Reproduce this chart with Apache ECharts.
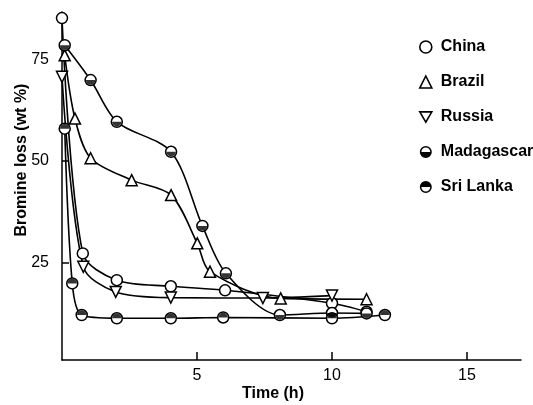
<!DOCTYPE html>
<html>
<head>
<meta charset="utf-8">
<script src="https://cdn.jsdelivr.net/npm/echarts@6/dist/echarts.min.js"></script>
<style>html,body{margin:0;padding:0;background:#fff}#c{width:533px;height:405px}</style>
</head>
<body>
<div id="c"></div>
<script>
// ---- data (time in h, bromine loss in wt %) ----
const chinaTime = [0, 0.77, 2.03, 4.03, 6.04, 10, 11.28];
const chinaLoss = [85.3, 27.2, 20.6, 19.1, 18.1, 14.9, 12.8];

const brazilTime = [0.1, 0.48, 1.06, 2.58, 4.04, 5.01, 5.48, 8.1, 11.28];
const brazilLoss = [76.1, 60.5, 50.7, 45.3, 41.6, 29.7, 22.7, 16.1, 15.9];

const russiaTime = [0, 0.79, 1.99, 4.03, 7.44, 10];
const russiaLoss = [70.8, 23.9, 17.7, 16.3, 16.2, 16.8];

const madagascarTime = [0.1, 1.06, 2.03, 4.04, 5.2, 6.07, 8.07, 10, 11.28];
const madagascarLoss = [78.6, 70, 59.7, 52.3, 34, 22.3, 12, 12.5, 12.4];

const sriLankaTime = [0.1, 0.38, 0.73, 2.03, 4.03, 5.97, 10, 11.96];
const sriLankaLoss = [58, 19.8, 12, 11.2, 11.2, 11.4, 11.2, 12];

const xTicks = [5, 10, 15];
const yTicks = [25, 50, 75];

function pairs(t, v) { return t.map((x, i) => [x, v[i]]); }

const downTri = 'path://M0,0 L20,0 L10,17 Z';
const ringBottom = 'path://M10,0 A10,10 0 1,1 10,20 A10,10 0 1,1 10,0 Z M10,2.6 A7.4,7.4 0 1,0 10,17.4 A7.4,7.4 0 1,0 10,2.6 Z M2.6,10 L17.4,10 A7.4,7.4 0 0,1 2.6,10 Z';
const ringTop = 'path://M10,0 A10,10 0 1,1 10,20 A10,10 0 1,1 10,0 Z M10,2.6 A7.4,7.4 0 1,0 10,17.4 A7.4,7.4 0 1,0 10,2.6 Z M2.6,10 A7.4,7.4 0 0,1 17.4,10 Z';
const halfBottom = 'path://M0,0 L20,0 A10,10 0 0,1 0,0 Z';
const halfTop = 'path://M0,10 A10,10 0 0,1 20,10 Z';

const FONT = 'Liberation Sans';
const openStyle = { color: '#fff', borderColor: '#000', borderWidth: 1.5 };
const lineStyle = { color: '#000', width: 1.6 };
const SZ = 11;

function lineSeries(name, t, v, symbol) {
  return {
    name: name,
    type: 'line',
    data: pairs(t, v),
    smooth: 0.3,
    symbol: symbol,
    symbolSize: SZ,
    showAllSymbol: true,
    itemStyle: openStyle,
    lineStyle: lineStyle,
    z: 2
  };
}

function fillSeries(t, v, path, dy) {
  return {
    name: '_fill',
    type: 'scatter',
    data: pairs(t, v),
    symbol: path,
    symbolSize: [9.4, 4.7],
    symbolOffset: [0, dy],
    itemStyle: { color: '#000' },
    silent: true,
    z: 4
  };
}

const chart = echarts.init(document.getElementById('c'), null, { renderer: 'canvas' });
chart.setOption({
  animation: false,
  backgroundColor: '#fff',
  textStyle: { fontFamily: FONT },
  grid: { left: 62, top: 12, width: 459, height: 348, containLabel: false },
  xAxis: {
    type: 'value', min: 0, max: 17,
    axisLine: { lineStyle: { color: '#000', width: 1.5 } },
    axisTick: { inside: true, length: 8, customValues: xTicks, lineStyle: { color: '#000', width: 1.5 } },
    axisLabel: { customValues: xTicks, color: '#000', fontSize: 16, fontFamily: FONT, margin: 8 },
    splitLine: { show: false }
  },
  yAxis: {
    type: 'value', min: 0.9, max: 86.8,
    axisLine: { show: true, lineStyle: { color: '#000', width: 1.5 } },
    axisTick: { show: true, inside: true, length: 7, customValues: yTicks, lineStyle: { color: '#000', width: 1.5 } },
    axisLabel: { customValues: yTicks, color: '#000', fontSize: 16, fontFamily: FONT, margin: 13 },
    splitLine: { show: false }
  },
  legend: {
    orient: 'vertical',
    left: 414, top: 34,
    itemWidth: 12, itemHeight: 12, itemGap: 19,
    textStyle: { fontSize: 16, fontWeight: 'bold', color: '#000', fontFamily: FONT, padding: [0, 0, 0, 4] },
    data: [
      { name: 'China', icon: 'circle', itemStyle: { color: '#fff', borderColor: '#000', borderWidth: 1.6 } },
      { name: 'Brazil', icon: 'triangle', itemStyle: { color: '#fff', borderColor: '#000', borderWidth: 1.6 } },
      { name: 'Russia', icon: downTri, itemStyle: { color: '#fff', borderColor: '#000', borderWidth: 1.6 } },
      { name: 'Madagascar', icon: ringBottom, itemStyle: { color: '#000', borderWidth: 0 } },
      { name: 'Sri Lanka', icon: ringTop, itemStyle: { color: '#000', borderWidth: 0 } }
    ]
  },
  graphic: [
    { type: 'text', x: 22, y: 160, rotation: Math.PI / 2,
      style: { text: 'Bromine loss (wt %)', fontFamily: FONT, fontSize: 16, fontWeight: 'bold', fill: '#000', textAlign: 'center', textVerticalAlign: 'middle' } },
    { type: 'text', x: 273, y: 394,
      style: { text: 'Time (h)', fontFamily: FONT, fontSize: 16, fontWeight: 'bold', fill: '#000', textAlign: 'center', textVerticalAlign: 'middle' } }
  ],
  series: [
    lineSeries('China', chinaTime, chinaLoss, 'circle'),
    lineSeries('Brazil', brazilTime, brazilLoss, 'triangle'),
    lineSeries('Russia', russiaTime, russiaLoss, downTri),
    lineSeries('Madagascar', madagascarTime, madagascarLoss, 'circle'),
    lineSeries('Sri Lanka', sriLankaTime, sriLankaLoss, 'circle'),
    fillSeries(madagascarTime, madagascarLoss, halfBottom, 2.35),
    fillSeries(sriLankaTime, sriLankaLoss, halfTop, -2.35)
  ]
});
</script>
</body>
</html>
